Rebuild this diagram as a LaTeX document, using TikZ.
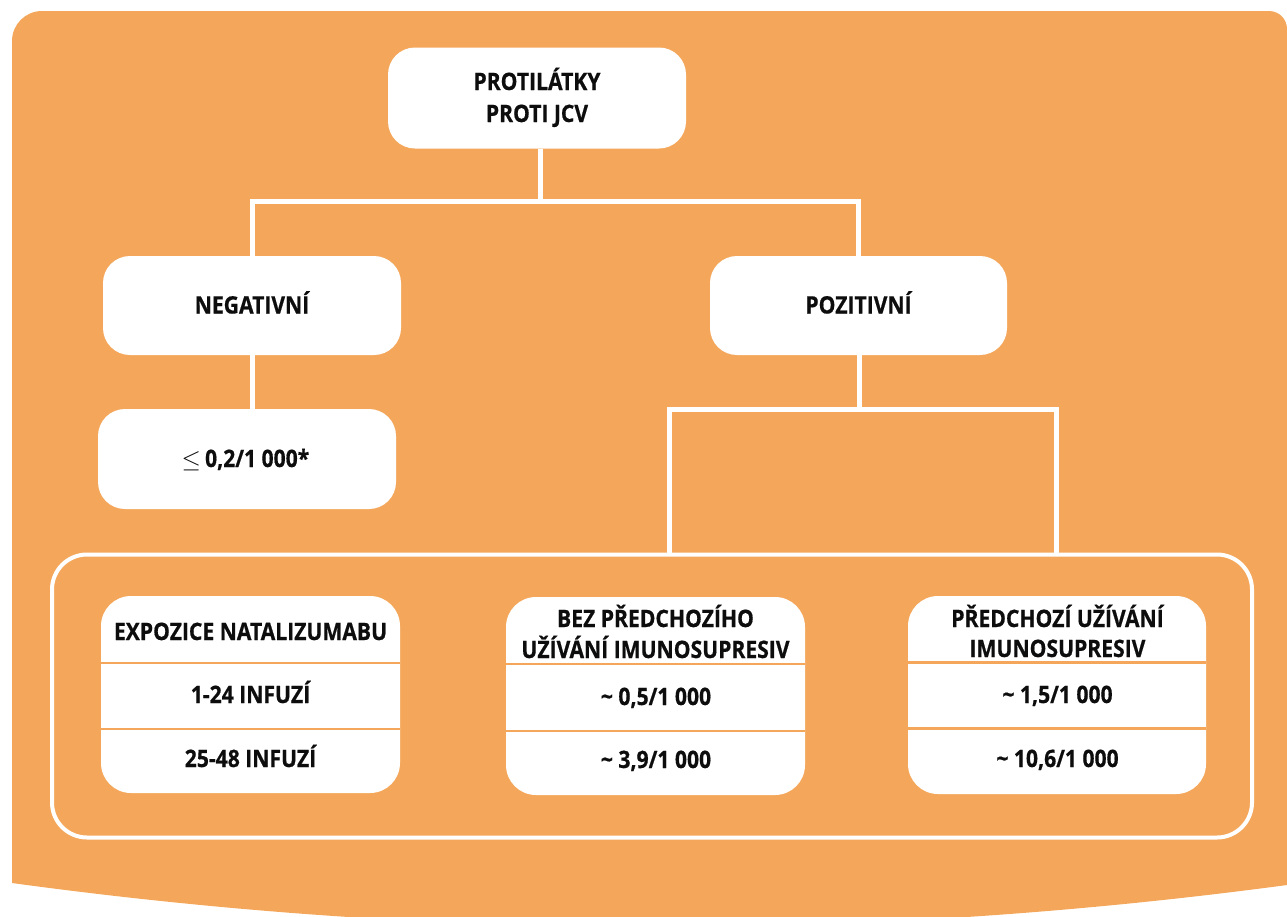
\documentclass[tikz,border=0pt]{standalone}
\usepackage{fontspec}
\setmainfont{Open Sans}[FakeStretch=0.88, BoldFeatures={FakeBold=0.6}]
\definecolor{bg}{RGB}{244,167,90}
\begin{document}
\begin{tikzpicture}[x=1pt,y=-1pt,
  box/.style={fill=white, rounded corners=27pt, inner sep=0pt},
  tablebox/.style={fill=white, rounded corners=30pt, inner sep=0pt, minimum width=298pt, minimum height=198pt},
  lbl/.style={anchor=base, inner sep=0pt, font=\fontsize{24}{30}\selectfont\bfseries, text=black!95},
  conn/.style={draw=white, line width=5pt, line join=miter},
  divider/.style={draw=bg, line width=2.5pt}]
\useasboundingbox (0,0) rectangle (1287,916);
\clip (0,0) rectangle (1287,916);
% background panel
\fill[bg] (12,883) -- (12,41) arc[start angle=180, end angle=270, radius=30]
  -- (1269,11) arc[start angle=270, end angle=360, radius=18]
  -- (1287,885) .. controls (862,942) and (437,941) .. (12,883) -- cycle;
% top level
\node[box, minimum width=298pt, minimum height=101pt] (top) at (537,98) {};
\node[lbl] (topa) at (537,90) {PROTILÁTKY};
\node[lbl] (topb) at (537,122) {PROTI JCV};
% second level
\node[box, minimum width=298pt, minimum height=99pt] (neg) at (252,305.5) {};
\node[lbl] (negt) at (252,313.5) {NEGATIVNÍ};
\node[box, minimum width=297pt, minimum height=99pt] (pos) at (858.5,305.5) {};
\node[lbl] (post) at (858.5,313.5) {POZITIVNÍ};
% negative value
\node[box, minimum width=298pt, minimum height=100pt] (val) at (247,459) {};
\node[lbl] (valt) at (245.5,467) {$\leq$\,0,2/1 000*};
% connectors
\coordinate (j1) at (540,201.5);
\draw[conn] (top.south -| j1) -- (j1);
\draw[conn] (neg.north) |- (j1) -| (pos.north);
\draw[conn] (neg.south) -- (neg.south |- val.north);
\coordinate (j2) at (859.5,409.5);
\coordinate (b1) at (669.5,554.5);
\coordinate (b2) at (1056.5,554.5);
\draw[conn] (pos.south -| j2) -- (j2);
\draw[conn] (b1) |- (j2) -| (b2);
% frame
\node[draw=white, line width=4pt, rounded corners=35pt, inner sep=0pt,
  minimum width=1200pt, minimum height=283pt] (frame) at (652,696) {};
% tables
\node[tablebox, minimum width=299pt, minimum height=197pt] (t1) at (250.5,694.5) {};
\draw[divider] (t1.west |- 0,663) -- (t1.east |- 0,663);
\draw[divider] (t1.west |- 0,729) -- (t1.east |- 0,729);
\node[lbl] (t1a) at (250.5,640) {EXPOZICE NATALIZUMABU};
\node[lbl] (t1b) at (250.5,703) {1-24 INFUZÍ};
\node[lbl] (t1c) at (250.5,767) {25-48 INFUZÍ};

\node[tablebox, minimum width=299pt, minimum height=198pt] (t2) at (655.5,696) {};
\draw[divider] (t2.west |- 0,664) -- (t2.east |- 0,664);
\draw[divider] (t2.west |- 0,731) -- (t2.east |- 0,731);
\node[lbl] (t2a) at (655.5,627) {BEZ PŘEDCHOZÍHO};
\node[lbl] (t2b) at (655.5,658) {UŽÍVÁNÍ IMUNOSUPRESIV};
\node[lbl] (t2c) at (656,705) {\textasciitilde{} 0,5/1 000};
\node[lbl] (t2d) at (656,768) {\textasciitilde{} 3,9/1 000};

\node[tablebox, minimum width=298pt, minimum height=198pt] (t3) at (1057,695) {};
\draw[divider] (t3.west |- 0,662.5) -- (t3.east |- 0,662.5);
\draw[divider] (t3.west |- 0,728.5) -- (t3.east |- 0,728.5);
\node[lbl] (t3a) at (1057.5,627) {PŘEDCHOZÍ UŽÍVÁNÍ};
\node[lbl] (t3b) at (1057.5,657) {IMUNOSUPRESIV};
\node[lbl] (t3c) at (1057.5,703) {\textasciitilde{} 1,5/1 000};
\node[lbl] (t3d) at (1057.5,767) {\textasciitilde{} 10,6/1 000};
\end{tikzpicture}
\end{document}
